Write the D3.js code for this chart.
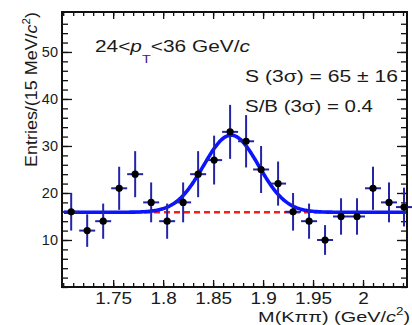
<!DOCTYPE html>
<html>
<head>
<meta charset="utf-8">
<script src="https://cdn.jsdelivr.net/npm/d3@7"></script>
<style>
  body { margin: 0; background: #fff; }
  text { font-family: "Liberation Sans", Arial, sans-serif; fill: #1a1a1a; }
</style>
</head>
<body>
<div id="viz-container"></div>
<script>
// data
const binCenters = [1.708, 1.724, 1.740, 1.756, 1.772, 1.788, 1.804, 1.820, 1.835, 1.851, 1.867,
                    1.883, 1.898, 1.915, 1.930, 1.946, 1.962, 1.978, 1.994, 2.010, 2.026, 2.041];
const entries = [16, 12, 14, 21, 24, 18, 14, 18, 24, 27, 33,
                 31, 25, 22, 16, 14, 10, 15, 15, 21, 18, 17];
const binHalfWidth = 0.008;

const xTicks = [1.75, 1.8, 1.85, 1.9, 1.95, 2.0];
const xTickLabels = ["1.75", "1.8", "1.85", "1.9", "1.95", "2"];
const yTicks = [10, 20, 30, 40, 50];

// fit: flat background + gaussian
const fitBackground = 15.9;
const fitPeak = 16.4;
const fitMean = 1.868;
const fitSigma = 0.0275;

const W = 412, H = 325;
const mLeft = 62, mRight = 407, mTop = 12, mBottom = 287;

let viz = d3.select("#viz-container")
  .append("svg")
    .attr("width", W)
    .attr("height", H);

let x = d3.scaleLinear().domain([1.6988, 2.044]).range([mLeft, mRight]);
let y = d3.scaleLinear().domain([0, 58.5]).range([mBottom, mTop]);

// stretch helper: the original lettering is wider than Liberation Sans
function stretchTo(g, target) {
  const w = g.node().getBBox().width;
  g.attr("transform", (g.attr("transform") || "") + " scale(" + (target / w) + ",1)");
}

// minor ticks
const xMinor = d3.range(1.70, 2.045, 0.01);
const yMinor = d3.range(0, 58, 2);

function tickAxis(axis, pos, values, size, labels, pad) {
  let g = viz.append("g").attr("transform", pos)
    .call(axis.tickValues(values).tickSize(size).tickPadding(pad || 0)
      .tickFormat(labels ? labels : ""));
  g.select(".domain").remove();
  g.selectAll("line").attr("stroke", "#111").attr("stroke-width", 1.3);
  return g;
}

tickAxis(d3.axisBottom(x), `translate(0,${mBottom})`, xMinor, -4);
tickAxis(d3.axisTop(x), `translate(0,${mTop})`, xMinor, -4);
tickAxis(d3.axisTop(x), `translate(0,${mTop})`, xTicks, -7);
tickAxis(d3.axisLeft(y), `translate(${mLeft},0)`, yMinor, -6);
tickAxis(d3.axisRight(y), `translate(${mRight},0)`, yMinor, -6);
tickAxis(d3.axisRight(y), `translate(${mRight},0)`, yTicks, -10);

let xAxis = tickAxis(d3.axisBottom(x), `translate(0,${mBottom})`, xTicks, -7,
  (d, i) => xTickLabels[i], 5.3);
xAxis.attr("font-family", null).attr("font-size", null);
xAxis.selectAll("text").attr("font-size", 16.5).attr("fill", "#1a1a1a")
  .each(function() { stretchTo(d3.select(this), this.getBBox().width * 1.15); });

let yAxis = tickAxis(d3.axisLeft(y), `translate(${mLeft},0)`, yTicks, -10, d => d, 4);
yAxis.attr("font-family", null).attr("font-size", null);
yAxis.selectAll("text").attr("font-size", 14.5).attr("fill", "#1a1a1a");

// frame
viz.append("rect")
  .attr("x", mLeft).attr("y", mTop)
  .attr("width", mRight - mLeft).attr("height", mBottom - mTop)
  .attr("fill", "none").attr("stroke", "#111").attr("stroke-width", 2);

// background fit (dashed red) and full fit (blue)
const fitX = d3.range(x.domain()[0] + 0.002, x.domain()[1] - 0.001, 0.001);
viz.append("path")
  .datum(fitX)
  .attr("d", d3.line().x(d => x(d)).y(d => y(fitBackground)))
  .attr("fill", "none")
  .attr("stroke", "#ff1a1a")
  .attr("stroke-width", 2.6)
  .attr("stroke-dasharray", "6,4");

viz.append("path")
  .datum(fitX)
  .attr("d", d3.line()
    .x(d => x(d))
    .y(d => y(fitBackground + fitPeak * Math.exp(-0.5 * ((d - fitMean) / fitSigma) ** 2))))
  .attr("fill", "none")
  .attr("stroke", "#0a14ff")
  .attr("stroke-width", 3.6);

// data points with sqrt(N) errors
let pts = viz.append("g").selectAll("g")
  .data(binCenters.map((c, i) => ({ c: c, n: entries[i] })))
  .join("g");

pts.append("line")
  .attr("x1", d => x(d.c)).attr("x2", d => x(d.c))
  .attr("y1", d => y(d.n - Math.sqrt(d.n))).attr("y2", d => y(d.n + Math.sqrt(d.n)))
  .attr("stroke", "#2424a8").attr("stroke-width", 2);

pts.append("line")
  .attr("x1", d => x(d.c - binHalfWidth)).attr("x2", d => x(d.c + binHalfWidth))
  .attr("y1", d => y(d.n)).attr("y2", d => y(d.n))
  .attr("stroke", "#2424a8").attr("stroke-width", 2);

pts.append("circle")
  .attr("cx", d => x(d.c)).attr("cy", d => y(d.n))
  .attr("r", 3.6)
  .attr("fill", "#000");

// annotations
let ann1 = viz.append("g").attr("transform", "translate(95,52)");
let t1 = ann1.append("text").attr("font-size", 16);
t1.append("tspan").text("24<");
t1.append("tspan").attr("font-style", "italic").text("p");
t1.append("tspan").attr("font-size", 11).attr("dy", 11).attr("fill", "#40207a").text("T");
t1.append("tspan").attr("dy", -11).text("<36 GeV/");
t1.append("tspan").attr("font-style", "italic").text("c");
stretchTo(ann1, 155);

let ann2 = viz.append("g").attr("transform", "translate(245,82)");
ann2.append("text").attr("font-size", 17).text("S (3\u03c3) = 65 \u00b1 16");
stretchTo(ann2, 153);

let ann3 = viz.append("g").attr("transform", "translate(245,112)");
ann3.append("text").attr("font-size", 17).text("S/B (3\u03c3) = 0.4");
stretchTo(ann3, 128);

// axis titles
let xTitle = viz.append("g").attr("transform", "translate(410,321.5)");
let xt = xTitle.append("text").attr("font-size", 15.5).attr("text-anchor", "end");
xt.append("tspan").text("M(K\u03c0\u03c0) (GeV/");
xt.append("tspan").attr("font-style", "italic").text("c");
xt.append("tspan").attr("font-size", 10.5).attr("dy", -6.5).text("2");
xt.append("tspan").attr("dy", 6.5).text(")");
stretchTo(xTitle, 152);

let yTitle = viz.append("g").attr("transform", "translate(37,12) rotate(-90)");
let yt = yTitle.append("text").attr("font-size", 17).attr("text-anchor", "end");
yt.append("tspan").text("Entries/(15 MeV/");
yt.append("tspan").attr("font-style", "italic").text("c");
yt.append("tspan").attr("font-size", 11).attr("dy", -7).text("2");
yt.append("tspan").attr("dy", 7).text(")");
stretchTo(yTitle, 155);
</script>
</body>
</html>
